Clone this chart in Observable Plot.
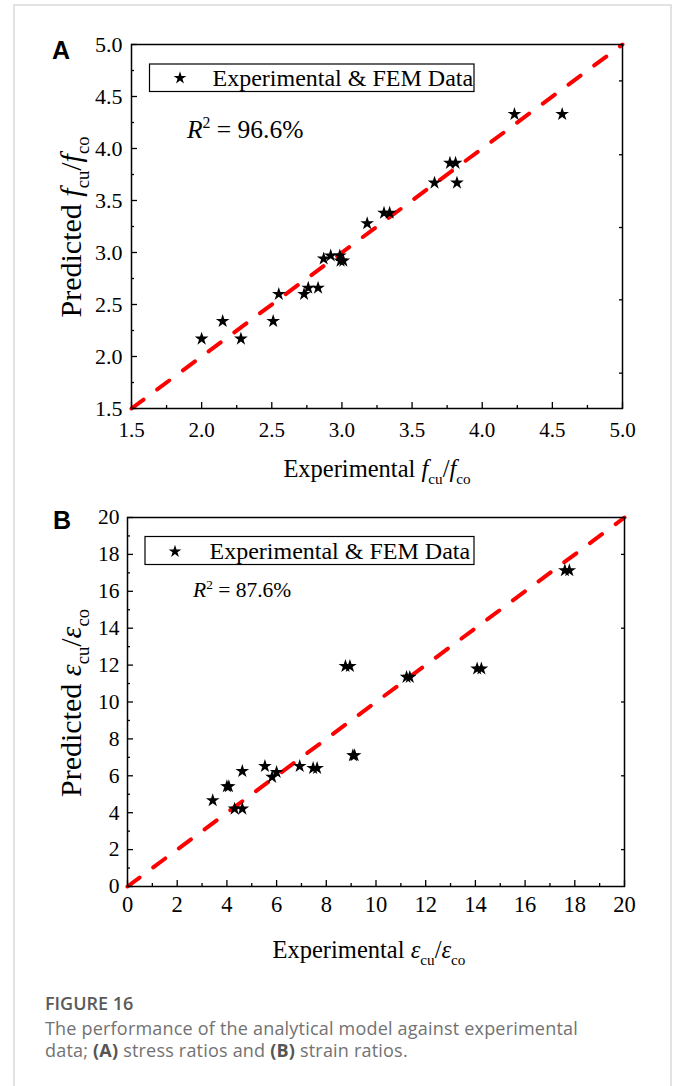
<!DOCTYPE html>
<html>
<head>
<meta charset="utf-8">
<script src="https://cdn.jsdelivr.net/npm/d3@7"></script>
<script src="https://cdn.jsdelivr.net/npm/@observablehq/plot@0.6"></script>
<style>
  html, body { margin: 0; padding: 0; background: #fff; }
  body { width: 677px; height: 1086px; overflow: hidden; position: relative; }
  #border { position: absolute; left: 13px; top: 4px; width: 659px; height: 1120px; border: 2px solid #e3e3e3; box-sizing: border-box; }
  .panel { position: absolute; left: 0; }
  .panel svg { display: block; }
  #caption { position: absolute; left: 45px; top: 992px; font-family: "Open Sans", "Noto Sans", sans-serif; white-space: nowrap; }
  #caption .fig { font-size: 18px; line-height: 22px; font-weight: 600; color: #5a5a5a; }
  #caption .txt { font-size: 18px; line-height: 22px; letter-spacing: 0.2px; color: #727272; margin-top: 3px; }
  #caption b { font-weight: 700; color: #555; }
</style>
</head>
<body>
<div id="border"></div>
<div class="panel" id="pa" style="top:0px"></div>
<div class="panel" id="pb" style="top:490px"></div>
<div id="caption">
  <div class="fig">FIGURE 16</div>
  <div class="txt">The performance of the analytical model against experimental<br>data; <b>(A)</b> stress ratios and <b>(B)</b> strain ratios.</div>
</div>
<script>
// ---------- Data ----------
// Panel A: stress ratios f_cu/f_co
const stressExperimental = [2.00, 2.15, 2.28, 2.51, 2.55, 2.73, 2.76, 2.83, 2.87, 2.92, 2.985, 2.99, 3.01, 3.18, 3.30, 3.34, 3.66, 3.77, 3.81, 3.82, 4.23, 4.57];
const stressPredicted    = [2.17, 2.34, 2.17, 2.34, 2.60, 2.60, 2.66, 2.66, 2.94, 2.97, 2.97, 2.92, 2.92, 3.28, 3.38, 3.38, 3.67, 3.86, 3.86, 3.67, 4.33, 4.33];
const stressDomain = [1.5, 5.0];
const stressTicks = [1.5, 2.0, 2.5, 3.0, 3.5, 4.0, 4.5, 5.0];
const stressMinorTicks = [1.75, 2.25, 2.75, 3.25, 3.75, 4.25, 4.75];
const stressRightTicks = [1.84, 2.545, 3.24, 3.94, 4.65];
const stressR2 = "96.6%";

// Panel B: strain ratios eps_cu/eps_co
const strainExperimental = [3.43, 4.00, 4.08, 4.31, 4.62, 4.62, 5.53, 5.82, 6.00, 6.93, 7.47, 7.63, 8.77, 8.95, 9.07, 9.14, 11.23, 11.36, 14.07, 14.24, 17.60, 17.78];
const strainPredicted    = [4.66, 5.42, 5.42, 4.21, 4.21, 6.25, 6.52, 5.93, 6.20, 6.52, 6.41, 6.41, 11.94, 11.94, 7.10, 7.10, 11.35, 11.35, 11.80, 11.80, 17.13, 17.13];
const strainDomain = [0, 20];
const strainTicks = [0, 2, 4, 6, 8, 10, 12, 14, 16, 18, 20];
const strainMinorTicks = [1, 3, 5, 7, 9, 11, 13, 15, 17, 19];
const strainRightTicks = [2, 6, 10, 14, 18];
const strainR2 = "87.6%";

const legendLabel = "Experimental & FEM Data";

// ---------- helpers ----------
const SERIF = '"Liberation Serif", "Times New Roman", Times, serif';
const STAR_R = 4.3;

function rich(parent, x, y, size, parts, opts = {}) {
  const t = parent.append("text")
    .attr("x", x).attr("y", y)
    .attr("font-size", size)
    .attr("font-family", SERIF)
    .attr("text-anchor", opts.anchor || "start")
    .attr("fill", "#000");
  if (opts.rotate) t.attr("transform", `rotate(-90 ${x} ${y})`);
  let shift = 0;
  for (const p of parts) {
    const s = t.append("tspan").text(p.t);
    const target = p.sub ? size * 0.28 : p.sup ? -size * 0.38 : 0;
    const dy = target - shift;
    shift = target;
    if (dy) s.attr("dy", dy);
    if (p.sub || p.sup) s.attr("font-size", size * 0.62);
    if (p.it) s.attr("font-style", "italic");
  }
  return t;
}

function makePanel(cfg) {
  const data = cfg.xs.map((x, i) => ({x, y: cfg.ys[i]}));
  const diag = cfg.domain.map(v => ({x: v, y: v}));
  const svg = Plot.plot({
    width: 677,
    height: cfg.height,
    marginLeft: cfg.ml, marginRight: cfg.mr, marginTop: cfg.mt, marginBottom: cfg.mb,
    style: {fontFamily: SERIF, fontSize: cfg.yTickFont + "px", color: "#000", background: "transparent", overflow: "visible"},
    x: {domain: cfg.domain, label: null},
    y: {domain: cfg.domain, label: null},
    marks: [
      Plot.line(diag, {x: "x", y: "y", stroke: "#ff0000", strokeWidth: 4, strokeDasharray: "15,17"}),
      Plot.dot(data, {x: "x", y: "y", symbol: "star", r: STAR_R, fill: "#000", stroke: "none"}),
      // tick labels
      Plot.axisX({anchor: "bottom", ticks: cfg.ticks, tickFormat: cfg.fmt, tickSize: 0, tickPadding: cfg.xPad, fontSize: cfg.xTickFont, label: null}),
      Plot.axisY({anchor: "left", ticks: cfg.ticks, tickFormat: cfg.fmt, tickSize: 0, tickPadding: cfg.yPad, fontSize: cfg.yTickFont, label: null}),
      // inward ticks
      Plot.axisX({anchor: "bottom", ticks: cfg.ticks, tickSize: -6, text: null, strokeWidth: 1.3, label: null}),
      Plot.axisX({anchor: "bottom", ticks: cfg.minor, tickSize: -3, text: null, strokeWidth: 1.3, label: null}),
      Plot.axisY({anchor: "left", ticks: cfg.ticks, tickSize: -6, text: null, strokeWidth: 1.3, label: null}),
      Plot.axisY({anchor: "left", ticks: cfg.minor, tickSize: -3, text: null, strokeWidth: 1.3, label: null}),
      Plot.axisY({anchor: "right", ticks: cfg.right, tickSize: -4, text: null, strokeWidth: 1.3, label: null}),
      Plot.frame({stroke: "#000", strokeWidth: 1.5})
    ]
  });
  const g = d3.select(svg);
  // panel letter
  g.append("text").attr("x", cfg.letter[0]).attr("y", cfg.letter[1])
    .attr("text-anchor", "start")
    .attr("font-family", '"Liberation Sans", Arial, sans-serif').attr("font-weight", "bold")
    .attr("font-size", 25).attr("fill", "#000").text(cfg.letterText);
  // legend box
  const L = cfg.legend;
  g.append("rect").attr("x", L.x).attr("y", L.y).attr("width", L.w).attr("height", L.h)
    .attr("fill", "#fff").attr("stroke", "#000").attr("stroke-width", 1.2);
  g.append("path").attr("d", d3.symbol(d3.symbolStar, Math.PI * 4 * 4)())
    .attr("transform", `translate(${L.sx},${L.sy})`).attr("fill", "#000");
  g.append("text").attr("x", L.tx).attr("y", L.ty).attr("font-family", SERIF)
    .attr("text-anchor", "start")
    .attr("font-size", L.fs).attr("fill", "#000").text(legendLabel);
  // R^2
  rich(g, cfg.r2[0], cfg.r2[1], cfg.r2[2], [{t: "R", it: true}, {t: "2", sup: true}, {t: " = " + cfg.r2Text}]);
  // axis titles
  const sym = cfg.sym;
  rich(g, cfg.xt[0], cfg.xt[1], cfg.xt[2], [{t: "Experimental "}, {t: sym, it: true}, {t: "cu", sub: true}, {t: "/"}, {t: sym, it: true}, {t: "co", sub: true}], {anchor: "middle"});
  rich(g, cfg.yt[0], cfg.yt[1], cfg.yt[2], [{t: "Predicted "}, {t: sym, it: true}, {t: "cu", sub: true}, {t: "/"}, {t: sym, it: true}, {t: "co", sub: true}], {anchor: "middle", rotate: true});
  return svg;
}

const f1 = d3.format(".1f");
const f0 = d3.format("d");

document.getElementById("pa").appendChild(makePanel({
  xs: stressExperimental, ys: stressPredicted, domain: stressDomain,
  ticks: stressTicks, minor: stressMinorTicks, right: stressRightTicks, fmt: f1,
  height: 490, ml: 131, mr: 55, mt: 44, mb: 82,
  yTickFont: 22, xTickFont: 21, xPad: 14, yPad: 9,
  letter: [52, 59], letterText: "A",
  legend: {x: 149.5, y: 64, w: 324.5, h: 27.5, sx: 180, sy: 78, tx: 212.5, ty: 86, fs: 24},
  r2: [187, 138, 25.5], r2Text: stressR2,
  xt: [377, 477, 24.5], yt: [81, 227, 30], sym: "f"
}));

document.getElementById("pb").appendChild(makePanel({
  xs: strainExperimental, ys: strainPredicted, domain: strainDomain,
  ticks: strainTicks, minor: strainMinorTicks, right: strainRightTicks, fmt: f0,
  height: 480, ml: 127, mr: 53, mt: 27, mb: 84,
  yTickFont: 21.5, xTickFont: 22.5, xPad: 10, yPad: 8,
  letter: [53, 39], letterText: "B",
  legend: {x: 145, y: 46.5, w: 329, h: 28, sx: 175, sy: 61.5, tx: 209.5, ty: 69, fs: 24},
  r2: [193, 107, 21.5], r2Text: strainR2,
  xt: [369, 468, 24.5], yt: [81, 213, 30], sym: "ε"
}));
</script>
</body>
</html>
